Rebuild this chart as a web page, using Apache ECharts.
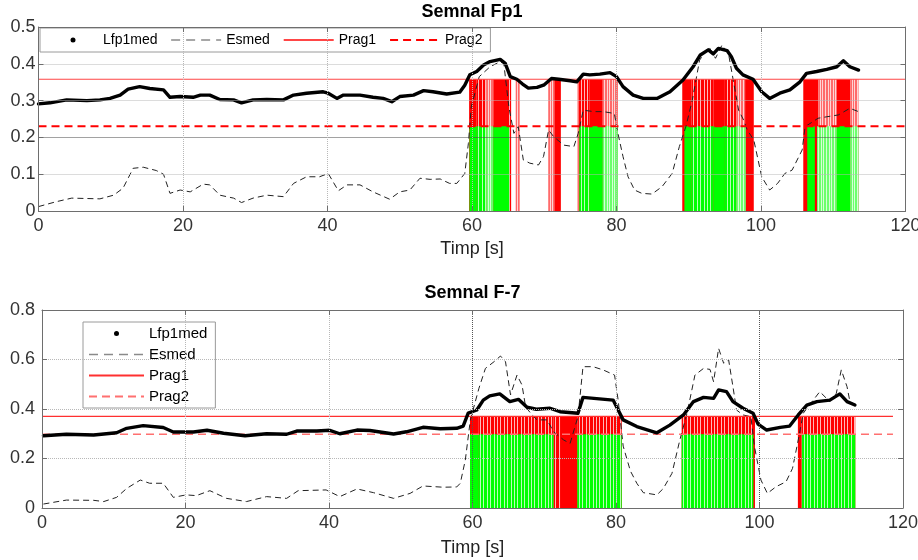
<!DOCTYPE html>
<html>
<head>
<meta charset="utf-8">
<script src="https://cdn.jsdelivr.net/npm/echarts@6/dist/echarts.min.js"></script>
<style>
  html, body { margin: 0; padding: 0; background: #fff; }
  #top { position: absolute; left: 0; top: 0; width: 918px; height: 270px; }
  #bottom { position: absolute; left: 0; top: 270px; width: 918px; height: 290px; }
</style>
</head>
<body>
<div id="top"></div>
<div id="bottom"></div>
<script>
// ---------- shared axis ----------
const timeMin = 0, timeMax = 120, timeStep = 20;

// ---------- Semnal Fp1 ----------
const fp1Title = 'Semnal Fp1';
const fp1Lfp1med = [
  [0,0.291],[1.6,0.294],[3.9,0.302],[6.7,0.300],[8.5,0.302],[9.9,0.306],[11.3,0.315],[12.4,0.331],
  [14.0,0.338],[15.4,0.333],[17.3,0.329],[18.2,0.309],[19.6,0.311],[21.4,0.309],[22.4,0.315],[23.7,0.315],
  [25.1,0.303],[27.0,0.302],[28.1,0.294],[29.7,0.302],[31.6,0.303],[33.9,0.302],[35.3,0.315],[37.1,0.320],
  [39.4,0.324],[40.1,0.320],[41.3,0.306],[42.2,0.315],[44.5,0.315],[46.3,0.309],[47.7,0.306],[48.9,0.297],
  [50.0,0.311],[51.9,0.315],[53.3,0.327],[54.6,0.324],[56.5,0.318],[58.3,0.323],[59.0,0.342],[59.7,0.370],
  [60.65,0.379],[61.6,0.397],[62.5,0.406],[63.9,0.412],[64.6,0.401],[65.3,0.365],[66.2,0.358],[67.0,0.345],
  [67.8,0.334],[69.0,0.336],[70.0,0.343],[71.0,0.360],[72.0,0.358],[73.6,0.354],[74.5,0.351],[75.4,0.372],
  [76.3,0.370],[77.7,0.372],[79.1,0.376],[80.0,0.365],[80.9,0.338],[82.3,0.315],[83.7,0.306],[85.6,0.306],
  [87.4,0.324],[89.2,0.356],[90.6,0.392],[91.6,0.424],[92.7,0.438],[93.4,0.427],[94.1,0.442],[95.3,0.436],
  [95.9,0.419],[96.6,0.388],[97.5,0.370],[98.9,0.358],[100.1,0.324],[101.2,0.306],[102.6,0.320],[104.0,0.329],
  [105.4,0.351],[106.3,0.374],[107.7,0.379],[109.1,0.385],[110.5,0.392],[111.4,0.408],[112.3,0.392],[113.5,0.383]
];
const fp1Esmed = [
  [0,0.012],[2.4,0.025],[4.6,0.035],[8.5,0.033],[10.4,0.043],[11.7,0.062],[13.1,0.116],[14.5,0.119],
  [16.3,0.110],[17.3,0.100],[18.2,0.048],[19.6,0.057],[21.0,0.052],[22.8,0.073],[23.7,0.071],[25.1,0.043],
  [27.0,0.035],[28.1,0.023],[29.7,0.035],[31.6,0.043],[33.9,0.039],[35.3,0.075],[37.1,0.093],[38.9,0.093],
  [40.1,0.102],[41.5,0.055],[42.7,0.071],[44.5,0.071],[46.3,0.052],[48.6,0.032],[50.0,0.052],[51.4,0.057],
  [52.8,0.089],[54.2,0.086],[55.6,0.087],[56.9,0.075],[57.9,0.075],[59.0,0.102],[59.5,0.184],[59.9,0.283],
  [61.0,0.365],[62.5,0.392],[63.9,0.406],[64.4,0.401],[65.1,0.283],[65.8,0.211],[66.4,0.229],[67.1,0.139],
  [68.0,0.130],[69.2,0.125],[69.9,0.148],[70.6,0.220],[71.3,0.202],[72.7,0.179],[74.1,0.175],[74.7,0.211],
  [75.4,0.274],[76.9,0.270],[78.2,0.270],[79.7,0.265],[80.1,0.220],[80.9,0.148],[81.6,0.093],[82.5,0.057],
  [83.5,0.048],[84.9,0.046],[86.3,0.066],[87.7,0.102],[88.7,0.175],[89.6,0.229],[90.5,0.302],[91.5,0.410],
  [92.8,0.446],[93.7,0.415],[94.6,0.451],[95.5,0.428],[96.4,0.329],[96.9,0.274],[97.6,0.247],[98.1,0.220],
  [99.0,0.193],[100.1,0.093],[101.2,0.057],[102.3,0.075],[103.3,0.102],[104.3,0.111],[105.7,0.166],[106.1,0.229],
  [107.9,0.252],[109.1,0.256],[110.7,0.261],[112.3,0.279],[113.5,0.270]
];
const fp1Prag1 = 0.358;
const fp1Prag2 = 0.230;
const fp1PragSpan = [0, 120];
// [start s, end s, density: 0 dense, 1 sparse, 2 very sparse]
const fp1RedBands = [
  [59.6,60.65,0],[60.65,62.0,1],[62.0,62.95,2],[62.95,65.15,0],[65.25,65.4,0],[66.05,66.6,2],
  [70.55,71.4,2],[71.4,72.3,0],
  [74.6,74.8,2],[74.8,76.3,1],[76.3,78.1,0],[78.1,80.2,2],
  [89.1,90.4,0],[90.4,93.4,1],[93.4,95.0,0],[95.0,96.6,1],[96.6,97.8,2],[97.8,99.0,0],
  [105.85,107.95,0],[107.95,110.5,2],[110.5,112.35,0],[112.35,113.5,2]
];
const fp1GreenBands = [
  [59.65,60.65,0],[60.65,62.0,1],[62.0,62.95,2],[62.95,65.15,0],
  [74.85,76.3,1],[76.3,78.1,0],[78.1,80.2,2],
  [89.4,90.4,0],[90.4,93.4,1],[93.4,95.0,0],[95.0,96.6,1],[96.6,97.9,2],
  [106.4,107.45,0],[107.75,110.5,2],[110.5,112.35,0],[112.35,113.5,2]
];
const fp1YTicks = { min: 0, max: 0.5, step: 0.1 };

// ---------- Semnal F-7 ----------
const f7Title = 'Semnal F-7';
const f7Lfp1med = [
  [0.2,0.292],[3.4,0.298],[7.2,0.295],[10.4,0.304],[11.8,0.322],[14.1,0.333],[16.9,0.325],[18.3,0.307],
  [21.1,0.307],[23.0,0.314],[25.3,0.302],[28.3,0.292],[31.3,0.300],[34.1,0.298],[35.5,0.311],[38.3,0.311],
  [40.1,0.314],[41.5,0.300],[43.9,0.315],[45.7,0.313],[49.0,0.299],[50.8,0.308],[53.1,0.326],[55.5,0.320],
  [57.8,0.322],[58.7,0.331],[59.4,0.383],[60.6,0.396],[61.5,0.436],[62.4,0.453],[63.8,0.461],[65.2,0.430],
  [66.4,0.439],[67.6,0.407],[68.9,0.399],[70.8,0.403],[72.2,0.389],[74.7,0.383],[75.4,0.447],[77.3,0.442],
  [79.6,0.436],[80.3,0.396],[81.0,0.356],[82.9,0.329],[85.7,0.304],[87.5,0.335],[89.4,0.376],[90.8,0.430],
  [92.2,0.447],[93.6,0.443],[94.3,0.477],[95.4,0.470],[96.3,0.430],[97.7,0.403],[99.1,0.383],[99.8,0.339],
  [101.0,0.315],[102.9,0.326],[104.2,0.331],[105.4,0.376],[106.6,0.416],[108.0,0.430],[109.8,0.436],[111.2,0.461],
  [112.2,0.430],[113.3,0.416]
];
const f7Esmed = [
  [0.2,0.016],[3.4,0.032],[7.2,0.031],[8.6,0.026],[10.4,0.043],[11.8,0.079],[13.7,0.113],[15.0,0.100],
  [16.9,0.100],[18.3,0.043],[20.1,0.053],[21.5,0.050],[23.4,0.070],[25.7,0.039],[28.5,0.026],[31.3,0.046],
  [34.1,0.039],[35.7,0.070],[39.6,0.073],[41.5,0.046],[43.9,0.077],[46.2,0.062],[49.0,0.039],[51.3,0.059],
  [53.1,0.089],[55.9,0.084],[57.8,0.085],[58.3,0.100],[59.0,0.194],[59.7,0.356],[60.9,0.484],[61.8,0.564],
  [63.0,0.591],[63.9,0.614],[64.6,0.591],[65.3,0.457],[66.2,0.537],[66.9,0.497],[67.4,0.409],[68.3,0.376],
  [69.0,0.356],[70.4,0.356],[71.3,0.308],[72.7,0.275],[73.6,0.261],[74.7,0.369],[75.4,0.571],[76.8,0.571],
  [78.2,0.558],[79.8,0.537],[80.3,0.436],[81.0,0.250],[82.0,0.150],[82.9,0.100],[83.8,0.062],[85.7,0.053],
  [86.6,0.079],[87.8,0.140],[88.9,0.275],[89.9,0.383],[91.0,0.537],[92.2,0.564],[93.1,0.560],[93.6,0.510],
  [94.3,0.645],[95.0,0.585],[95.7,0.598],[96.3,0.490],[96.8,0.396],[97.7,0.376],[98.8,0.369],[99.3,0.248],
  [100.2,0.113],[101.1,0.059],[102.3,0.086],[103.7,0.106],[104.6,0.160],[105.4,0.275],[106.1,0.383],[107.5,0.436],
  [108.4,0.470],[109.8,0.430],[110.7,0.463],[111.4,0.558],[112.2,0.490],[112.6,0.430],[113.3,0.416]
];
const f7Prag1 = 0.370;
const f7Prag2 = 0.298;
const f7PragSpan = [0, 118.6];
const f7RedBands = [
  [59.65,60.8,0],[60.8,71.3,1],[71.3,72.2,1],[72.2,74.6,0],[74.6,80.8,1],
  [89.15,99.37,1],
  [105.35,105.85,0],[105.85,113.35,1]
];
const f7GreenBands = [
  [59.65,60.8,0],[60.8,71.3,1],[74.6,80.8,1],
  [89.15,99.15,1],
  [105.9,113.35,1]
];
const f7YTicks = { min: 0, max: 0.8, step: 0.2 };

// ---------- drawing helpers ----------
const FONT = '"Liberation Sans", Arial, sans-serif';
const AXIS_COLOR = '#6e6e6e';
const LABEL_COLOR = '#333';
// small centred dot inside an invisible 50x14 box, used as a legend marker
const DOT_ICON = 'path://M0,0M50,0M50,14M0,14M22.5,7A2.5,2.5,0,1,0,27.5,7A2.5,2.5,0,1,0,22.5,7Z';
// line-only legend entries: hide the marker that line legends add in the middle
const NO_MARKER = { color: 'transparent', borderColor: 'transparent', borderWidth: 0, opacity: 0 };

// vertical detection bands from 0 up to a threshold, sparse ones drawn with white gaps
function bandSeries(bands, level, solid, light) {
  return {
    type: 'custom', silent: true, clip: true, z: 1,
    data: bands,
    renderItem(params, api) {
      const a = api.coord([api.value(0), level]);
      const b = api.coord([api.value(1), 0]);
      const kind = api.value(2);
      const x = a[0], y = a[1];
      const w = Math.max(b[0] - a[0], 1.2), h = b[1] - a[1];
      const kids = [{ type: 'rect', shape: { x, y, width: w, height: h },
                      style: { fill: kind === 2 ? light : solid } }];
      if (kind > 0) {
        const step = kind === 2 ? 2.6 : 3.4;
        for (let sx = x + step / 2; sx < x + w - 1; sx += step) {
          kids.push({ type: 'rect', shape: { x: Math.round(sx), y, width: 1, height: h },
                      style: { fill: 'rgba(255,255,255,0.72)' } });
        }
      }
      return { type: 'group', children: kids };
    }
  };
}

function buildOption(p) {
  const axisLine = { show: true, onZero: false, lineStyle: { color: AXIS_COLOR, width: 1 } };
  const tick = { show: true, inside: true, length: 5, lineStyle: { color: AXIS_COLOR } };
  return {
    animation: false,
    title: {
      text: p.title, left: p.titleX, top: p.titleTop, textAlign: 'center', padding: 0,
      textStyle: { fontFamily: FONT, fontSize: 18, fontWeight: 'bold', color: '#000' }
    },
    legend: Object.assign({
      selectedMode: false, itemWidth: p.legendIconW, itemHeight: 14,
      borderColor: '#9a9a9a', borderWidth: 1, backgroundColor: '#fff',
      textStyle: { fontFamily: FONT, fontSize: p.legendFont, color: '#000' },
      data: [
        { name: 'Lfp1med', icon: DOT_ICON },
        { name: 'Esmed', itemStyle: NO_MARKER, lineStyle: { color: '#8a8a8a', width: 1.3, type: [9, 6] } },
        { name: 'Prag1', itemStyle: NO_MARKER },
        { name: 'Prag2', itemStyle: NO_MARKER }
      ]
    }, p.legend),
    grid: Object.assign({ outerBoundsMode: 'none', containLabel: false }, p.grid),
    xAxis: [
      {
        type: 'value', min: timeMin, max: timeMax, interval: timeStep, position: 'bottom', z: 10,
        name: 'Timp [s]', nameLocation: 'middle', nameGap: p.nameGap,
        nameTextStyle: { fontFamily: FONT, fontSize: 18, color: '#222' },
        axisLine, axisTick: tick,
        axisLabel: { fontFamily: FONT, fontSize: 18, color: LABEL_COLOR, margin: 6 },
        splitLine: { show: true, lineStyle: { type: 'dotted', color: p.xGridColors, width: 1 } }
      },
      {
        type: 'value', min: timeMin, max: timeMax, interval: timeStep, position: 'top', z: 10,
        axisLine, axisTick: tick, axisLabel: { show: false }, splitLine: { show: false }
      }
    ],
    yAxis: [
      {
        type: 'value', min: p.yTicks.min, max: p.yTicks.max, interval: p.yTicks.step, position: 'left', z: 10,
        axisLine, axisTick: tick,
        axisLabel: { fontFamily: FONT, fontSize: 18, color: LABEL_COLOR, margin: p.yLabelMargin },
        splitLine: { show: true, lineStyle: { type: 'dotted', color: p.yGridColors, width: 1 } }
      },
      {
        type: 'value', min: p.yTicks.min, max: p.yTicks.max, interval: p.yTicks.step, position: 'right', z: 10,
        axisLine, axisTick: tick, axisLabel: { show: false }, splitLine: { show: false }
      }
    ],
    series: [
      bandSeries(p.red, p.prag1, '#ff0000', '#ff6a6a'),
      bandSeries(p.green, p.prag2, '#00ff00', '#6cff6c'),
      {
        name: 'Lfp1med', type: 'line', data: p.lfp, symbol: 'none', z: 4,
        itemStyle: { color: '#000' },
        lineStyle: { color: '#000', width: 3.4, cap: 'round', join: 'round' }
      },
      {
        name: 'Esmed', type: 'line', data: p.esmed, symbol: 'none', z: 3,
        itemStyle: { color: '#222' },
        lineStyle: { color: '#222', width: 1, type: [6, 4] }
      },
      {
        name: 'Prag1', type: 'line', symbol: 'none', z: 3,
        data: [[p.span[0], p.prag1], [p.span[1], p.prag1]],
        itemStyle: { color: p.prag1Color },
        lineStyle: { color: p.prag1Color, width: 1.2 }
      },
      {
        name: 'Prag2', type: 'line', symbol: 'none', z: 3,
        data: [[p.span[0], p.prag2], [p.span[1], p.prag2]],
        itemStyle: { color: p.prag2Color },
        lineStyle: { color: p.prag2Color, width: p.prag2Width, type: [8, 5] }
      }
    ]
  };
}

const topChart = echarts.init(document.getElementById('top'), null, { renderer: 'canvas' });
topChart.setOption(buildOption({
  title: fp1Title, titleX: 472, titleTop: 3,
  grid: { left: 38.5, right: 12.5, top: 27, height: 184 },
  legend: { left: 40, top: 28, orient: 'horizontal', padding: [5, 8], itemGap: 13 },
  legendIconW: 50, legendFont: 14,
  nameGap: 28, yLabelMargin: 3,
  yTicks: fp1YTicks,
  xGridColors: ['#b8b8b8'],
  yGridColors: ['#b8b8b8', '#b8b8b8', '#444', '#b8b8b8', '#b8b8b8', '#b8b8b8'],
  lfp: fp1Lfp1med, esmed: fp1Esmed,
  prag1: fp1Prag1, prag2: fp1Prag2, span: fp1PragSpan,
  prag1Color: '#ff4646', prag2Color: '#ff0000', prag2Width: 2,
  red: fp1RedBands, green: fp1GreenBands
}));

const bottomChart = echarts.init(document.getElementById('bottom'), null, { renderer: 'canvas' });
bottomChart.setOption(buildOption({
  title: f7Title, titleX: 472.5, titleTop: 14,
  grid: { left: 42, right: 15, top: 40, height: 198 },
  legend: { left: 83, top: 52, orient: 'vertical', padding: [4, 8, 4, 5], itemGap: 6 },
  legendIconW: 55, legendFont: 15,
  nameGap: 31, yLabelMargin: 7,
  yTicks: f7YTicks,
  xGridColors: ['#b8b8b8', '#b8b8b8', '#b8b8b8', '#555', '#b8b8b8', '#555', '#b8b8b8'],
  yGridColors: ['#b8b8b8'],
  lfp: f7Lfp1med, esmed: f7Esmed,
  prag1: f7Prag1, prag2: f7Prag2, span: f7PragSpan,
  prag1Color: '#ff3030', prag2Color: '#ff7070', prag2Width: 1.3,
  red: f7RedBands, green: f7GreenBands
}));
</script>
</body>
</html>
